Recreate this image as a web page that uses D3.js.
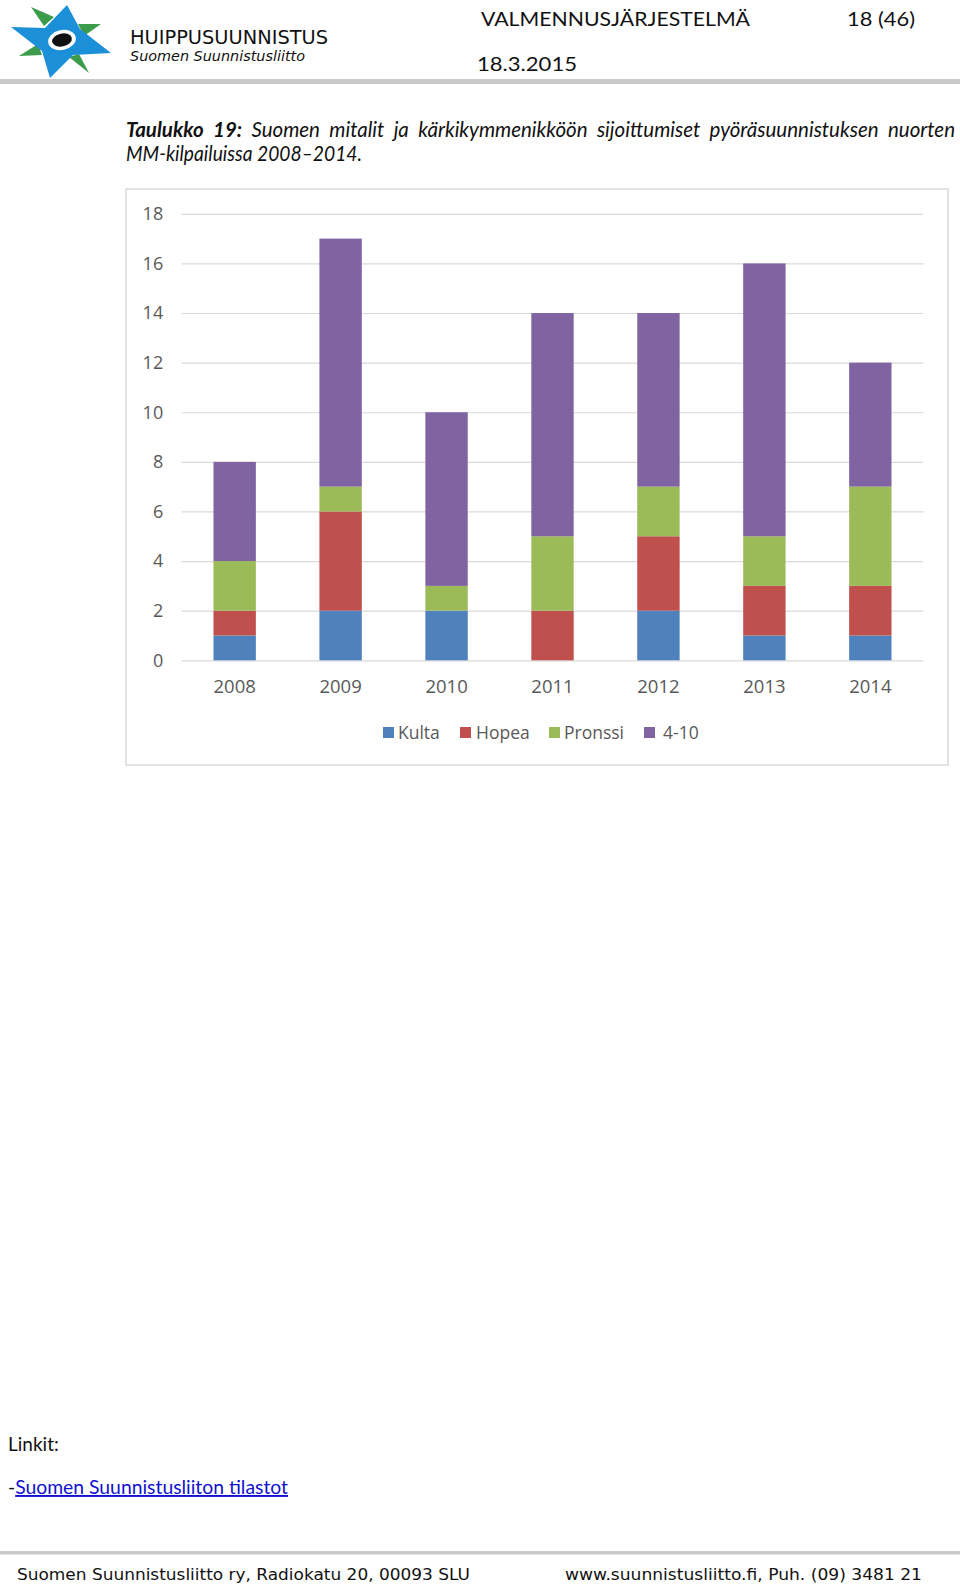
<!DOCTYPE html>
<html>
<head>
<meta charset="utf-8">
<script src="https://cdn.jsdelivr.net/npm/d3@7"></script>
<style>
  html, body { margin: 0; padding: 0; background: #fff; overflow: hidden; }
  svg { display: block; }
</style>
</head>
<body>
<svg id="page" width="960" height="1588"></svg>
<script>
// ---------- DATA ----------
const years = ["2008", "2009", "2010", "2011", "2012", "2013", "2014"];
const kulta = [1, 2, 2, 0, 2, 1, 1];
const hopea = [1, 4, 0, 2, 3, 2, 2];
const pronssi = [2, 1, 1, 3, 2, 2, 4];
const sijat4to10 = [4, 10, 7, 9, 7, 11, 5];
const seriesNames = ["Kulta", "Hopea", "Pronssi", "4-10"];
const yTicks = [0, 2, 4, 6, 8, 10, 12, 14, 16, 18];

(function () {
// ---------- STYLES / LAYOUT ----------
const colors = ["#4f81bd", "#c0504d", "#9bbb59", "#8064a2"];
const calibri = "Lato, 'Open Sans', sans-serif";
const tahoma = "'DejaVu Sans', Verdana, sans-serif";
const tickFont = "'Open Sans', Lato, sans-serif";

const svg = d3.select("#page");

function fitText(sel, w) {
  sel.attr("textLength", w).attr("lengthAdjust", "spacingAndGlyphs");
  return sel;
}

// ---------- HEADER ----------
const logo = svg.append("g").attr("class", "logo");
const green = "#3c9c4c", blue = "#1b8fd8";
[
  [[31, 7], [54, 17], [44, 26]],
  [[101, 24], [78, 24], [84, 36]],
  [[19, 56], [38, 44], [42, 55]],
  [[89, 73], [69, 57], [79, 54]]
].forEach(t => logo.append("path").attr("d", "M" + t.map(p => p.join(",")).join("L") + "Z").attr("fill", green));
logo.append("path")
  .attr("d", "M67,5 L80,29 L111,53 L73,55 L50,78 L42,51 L11,27 L45,28 Z")
  .attr("fill", blue);
logo.append("ellipse").attr("cx", 62).attr("cy", 40).attr("rx", 14).attr("ry", 10)
  .attr("fill", "#fff").attr("transform", "rotate(-12,62,40)");
logo.append("ellipse").attr("cx", 62).attr("cy", 40).attr("rx", 10).attr("ry", 6.5)
  .attr("fill", "#111").attr("transform", "rotate(-12,62,40)");

fitText(svg.append("text").attr("x", 130).attr("y", 44)
  .attr("font-family", tahoma).attr("font-size", 20).attr("fill", "#111")
  .text("HUIPPUSUUNNISTUS"), 198);
fitText(svg.append("text").attr("x", 130).attr("y", 61)
  .attr("font-family", tahoma).attr("font-style", "italic").attr("font-size", 14).attr("fill", "#111")
  .text("Suomen Suunnistusliitto"), 175);

fitText(svg.append("text").attr("x", 481).attr("y", 26)
  .attr("font-family", calibri).attr("font-size", 20).attr("fill", "#111")
  .text("VALMENNUSJÄRJESTELMÄ"), 269);
fitText(svg.append("text").attr("x", 847).attr("y", 26)
  .attr("font-family", calibri).attr("font-size", 20).attr("fill", "#111")
  .text("18 (46)"), 68);
fitText(svg.append("text").attr("x", 477).attr("y", 71)
  .attr("font-family", calibri).attr("font-size", 20).attr("fill", "#111")
  .text("18.3.2015"), 100);

svg.append("rect").attr("x", 0).attr("y", 79).attr("width", 960).attr("height", 5).attr("fill", "#c9c9c9");

// ---------- CAPTION (justified first line, word by word) ----------
const capWords = [
  { t: "Taulukko", b: true }, { t: "19:", b: true }, { t: "Suomen" }, { t: "mitalit" }, { t: "ja" },
  { t: "kärkikymmenikköön" }, { t: "sijoittumiset" }, { t: "pyöräsuunnistuksen" }, { t: "nuorten" }
];
const capG = svg.append("g").attr("font-family", calibri).attr("font-style", "italic")
  .attr("font-size", 20.5).attr("fill", "#111");
const wordNodes = capG.selectAll("text").data(capWords).join("text")
  .attr("y", 137).attr("font-weight", d => d.b ? "bold" : "normal").text(d => d.t);
const widths = wordNodes.nodes().map(n => n.getComputedTextLength());
const totalW = d3.sum(widths);
const capL = 126, capR = 955;
const gap = (capR - capL - totalW) / (capWords.length - 1);
let cx = capL;
wordNodes.each(function (d, i) { d3.select(this).attr("x", cx); cx += widths[i] + gap; });

fitText(svg.append("text").attr("x", 126).attr("y", 161)
  .attr("font-family", calibri).attr("font-style", "italic").attr("font-size", 20.5).attr("fill", "#111")
  .text("MM-kilpailuissa 2008–2014."), 236);

// ---------- CHART ----------
svg.append("rect").attr("x", 126).attr("y", 189).attr("width", 822).attr("height", 576)
  .attr("fill", "#fff").attr("stroke", "#d9d9d9").attr("stroke-width", 1.5);

const pLeft = 181.7, pRight = 923.3, pTop = 213.8, pBottom = 660.3;
const x = d3.scaleBand().domain(years).range([pLeft, pRight]).paddingInner(0.6).paddingOuter(0.3);
const y = d3.scaleLinear().domain([0, 18]).range([pBottom, pTop]);

const grid = svg.append("g").attr("transform", `translate(${pLeft},0)`)
  .call(d3.axisLeft(y).tickValues(yTicks).tickSize(-(pRight - pLeft)).tickFormat(""));
grid.select(".domain").remove();
grid.selectAll("line").attr("stroke", "#d9d9d9").attr("stroke-width", 1.2);

const rows = years.map((yr, i) => ({ year: yr, "Kulta": kulta[i], "Hopea": hopea[i], "Pronssi": pronssi[i], "4-10": sijat4to10[i] }));
const stacked = d3.stack().keys(seriesNames)(rows);
svg.append("g").selectAll("g").data(stacked).join("g")
  .attr("fill", (d, i) => colors[i])
  .selectAll("rect").data(d => d).join("rect")
  .attr("x", d => x(d.data.year))
  .attr("width", x.bandwidth())
  .attr("y", d => y(d[1]))
  .attr("height", d => y(d[0]) - y(d[1]));

const yAxis = svg.append("g").attr("transform", `translate(${pLeft},0)`)
  .call(d3.axisLeft(y).tickValues(yTicks).tickSize(0).tickPadding(18.5));
yAxis.select(".domain").remove();
yAxis.selectAll("text").attr("font-family", tickFont).attr("font-size", 18).attr("fill", "#595959");

const xAxis = svg.append("g").attr("transform", `translate(0,${pBottom})`)
  .call(d3.axisBottom(x).tickSize(0).tickPadding(20));
xAxis.select(".domain").remove();
xAxis.selectAll("text").attr("font-family", tickFont).attr("font-size", 18.5).attr("fill", "#595959");

const legendX = [383, 460, 549, 644];
const legendTx = [15, 16, 15, 19];
const legend = svg.append("g").selectAll("g").data(seriesNames).join("g")
  .attr("transform", (d, i) => `translate(${legendX[i]},727)`);
legend.append("rect").attr("width", 11).attr("height", 11).attr("fill", (d, i) => colors[i]);
legend.append("text").attr("x", (d, i) => legendTx[i]).attr("y", 12)
  .attr("font-family", tickFont).attr("font-size", 17.5).attr("fill", "#595959")
  .text(d => d);

// ---------- LINKS ----------
svg.append("text").attr("x", 8).attr("y", 1451)
  .attr("font-family", calibri).attr("font-size", 19).attr("fill", "#111").text("Linkit:");
const link = svg.append("text").attr("x", 8).attr("y", 1494)
  .attr("font-family", calibri).attr("font-size", 19);
link.append("tspan").attr("fill", "#111").text("-");
link.append("tspan").attr("fill", "#1010d0").attr("text-decoration", "underline")
  .text("Suomen Suunnistusliiton tilastot");
fitText(link, 280);

// ---------- FOOTER ----------
svg.append("rect").attr("x", 0).attr("y", 1551).attr("width", 960).attr("height", 3.5).attr("fill", "#c9c9c9");
fitText(svg.append("text").attr("x", 17).attr("y", 1580)
  .attr("font-family", tahoma).attr("font-size", 15).attr("fill", "#111")
  .text("Suomen Suunnistusliitto ry, Radiokatu 20, 00093 SLU"), 453);
fitText(svg.append("text").attr("x", 565).attr("y", 1580)
  .attr("font-family", tahoma).attr("font-size", 15).attr("fill", "#111")
  .text("www.suunnistusliitto.fi, Puh. (09) 3481 21"), 357);
})();
</script>
</body>
</html>
